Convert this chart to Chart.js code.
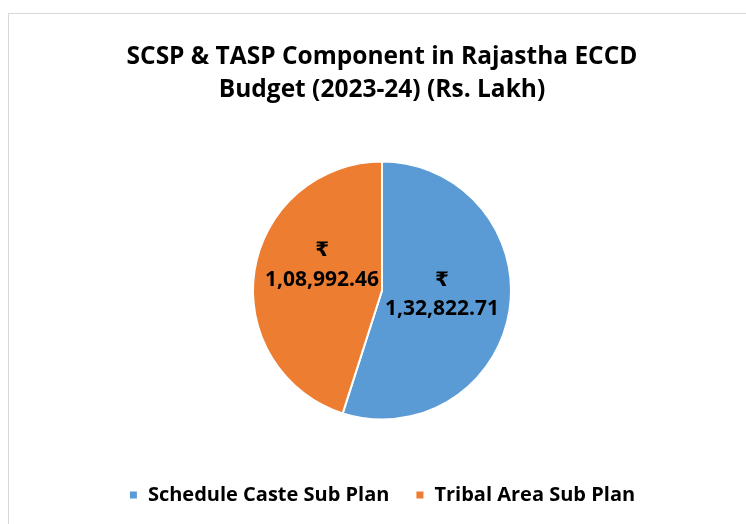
<!DOCTYPE html>
<html>
<head>
<meta charset="utf-8">
<script src="https://cdn.jsdelivr.net/npm/chart.js@4"></script>
<style>
  body { margin: 0; background: #fff; }
  #frame { position: absolute; left: 8px; top: 13px; width: 800px; height: 600px; border: 1px solid #d9d9d9; }
  #chart { position: absolute; left: 0; top: 0; }
</style>
</head>
<body>
<div id="frame"></div>
<canvas id="chart" width="746" height="524"></canvas>
<script>
var categories = ['Schedule Caste Sub Plan', 'Tribal Area Sub Plan'];
var amounts = [132822.71, 108992.46];
var colours = ['#5B9BD5', '#ED7D31'];
var titleLines = ['SCSP & TASP Component in Rajastha ECCD', 'Budget (2023-24) (Rs. Lakh)'];

var FONT = '"Open Sans", Calibri, Carlito, sans-serif';

// indian grouping, e.g. 1,32,822.71
function inr(v) {
  var parts = v.toFixed(2).split('.');
  var s = parts[0];
  var last3 = s.slice(-3);
  var rest = s.slice(0, -3);
  if (rest.length) {
    rest = rest.replace(/\B(?=(\d{2})+(?!\d))/g, ',');
    last3 = rest + ',' + last3;
  }
  return last3 + '.' + parts[1];
}

// value labels inside the slices
var sliceLabels = {
  id: 'sliceLabels',
  afterDatasetsDraw(chart) {
    var ctx = chart.ctx;
    var meta = chart.getDatasetMeta(0);
    var lift = [5, 16]; // excel nudges the labels a bit upward
    ctx.save();
    ctx.fillStyle = '#000';
    ctx.textAlign = 'center';
    ctx.textBaseline = 'middle';
    meta.data.forEach(function(arc, i) {
      var mid = (arc.startAngle + arc.endAngle) / 2;
      var r = arc.outerRadius * 0.47;
      var x = arc.x + Math.cos(mid) * r;
      var y = arc.y + Math.sin(mid) * r - lift[i];
      ctx.font = 'bold 20px "DejaVu Sans", ' + FONT;
      ctx.fillText('\u20B9', x, y - 14.5);
      ctx.font = 'bold 21px ' + FONT;
      ctx.fillText(inr(amounts[i]), x, y + 14.5);
    });
    ctx.restore();
  }
};

new Chart(document.getElementById('chart').getContext('2d'), {
  type: 'pie',
  data: {
    labels: categories,
    datasets: [{
      data: amounts,
      backgroundColor: colours,
      borderColor: '#ffffff',
      borderWidth: 2,
      radius: 129
    }]
  },
  options: {
    responsive: false,
    animation: false,
    layout: { padding: { left: 18, bottom: 9 } },
    plugins: {
      title: {
        display: true,
        text: titleLines,
        color: '#000',
        font: { family: FONT, size: 24.5, weight: 'bold', lineHeight: 1.347 },
        padding: { top: 41, bottom: 15 }
      },
      legend: {
        position: 'bottom',
        labels: {
          boxWidth: 9,
          boxHeight: 9,
          padding: 26,
          color: '#000',
          font: { family: FONT, size: 20, weight: 'bold' }
        }
      },
      tooltip: { enabled: false }
    }
  },
  plugins: [sliceLabels]
});
</script>
</body>
</html>
